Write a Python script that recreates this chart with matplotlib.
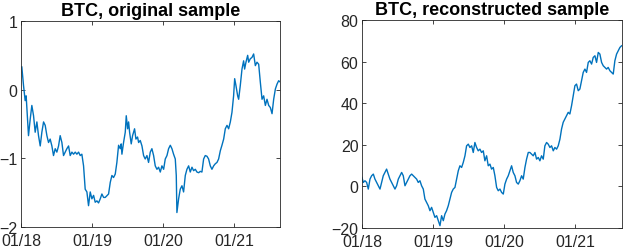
import numpy as np
import matplotlib
matplotlib.use("Agg")
import matplotlib.pyplot as plt

plt.rcParams['font.family'] = ['Liberation Sans', 'DejaVu Sans']

# time in years since 01/2018
t_orig = [0.009, 0.033, 0.056, 0.070, 0.103, 0.127, 0.150, 0.174, 0.197, 0.221,
          0.244, 0.268, 0.291, 0.315, 0.338, 0.362, 0.385, 0.408, 0.432, 0.455,
          0.479, 0.502, 0.526, 0.549, 0.573, 0.596, 0.620, 0.643, 0.667, 0.690,
          0.714, 0.737, 0.761, 0.784, 0.808, 0.831, 0.854, 0.878, 0.901, 0.925,
          0.948, 0.972, 0.995, 1.019, 1.042, 1.066, 1.089, 1.113, 1.136, 1.160,
          1.183, 1.230, 1.254, 1.277, 1.300, 1.324, 1.347, 1.371, 1.394, 1.408,
          1.418, 1.441, 1.465, 1.479, 1.498, 1.512, 1.526, 1.549, 1.568, 1.596,
          1.615, 1.638, 1.653, 1.676, 1.700, 1.723, 1.746, 1.770, 1.793, 1.817,
          1.840, 1.864, 1.887, 1.911, 1.934, 1.958, 1.981, 2.005, 2.028, 2.052,
          2.075, 2.099, 2.122, 2.145, 2.169, 2.183, 2.192, 2.216, 2.239, 2.263,
          2.286, 2.310, 2.333, 2.357, 2.380, 2.404, 2.427, 2.451, 2.474, 2.498,
          2.521, 2.544, 2.568, 2.591, 2.615, 2.638, 2.662, 2.685, 2.709, 2.732,
          2.756, 2.779, 2.803, 2.826, 2.850, 2.873, 2.897, 2.920, 2.944, 2.967,
          2.990, 3.005, 3.023, 3.047, 3.061, 3.084, 3.108, 3.131, 3.145, 3.164,
          3.188, 3.202, 3.225, 3.249, 3.272, 3.296, 3.319, 3.343, 3.366, 3.390,
          3.413, 3.437, 3.460, 3.484, 3.507, 3.531, 3.554, 3.578, 3.601, 3.624,
          3.648]
v_orig = [0.33, 0.06, -0.16, -0.09, -0.67, -0.43, -0.23, -0.38, -0.62, -0.47,
          -0.67, -0.82, -0.62, -0.47, -0.52, -0.67, -0.77, -0.72, -0.82, -0.96,
          -0.86, -0.91, -0.82, -0.67, -0.77, -0.96, -0.91, -0.86, -0.82, -0.96,
          -0.91, -0.94, -0.91, -0.94, -0.91, -0.96, -0.94, -1.11, -1.45, -1.49,
          -1.69, -1.49, -1.59, -1.54, -1.64, -1.62, -1.65, -1.59, -1.52, -1.57,
          -1.57, -1.52, -1.35, -1.25, -1.28, -1.23, -1.06, -0.81, -0.86, -0.79,
          -0.94, -0.77, -0.62, -0.38, -0.57, -0.47, -0.62, -0.79, -0.67, -0.57,
          -0.72, -0.69, -0.77, -0.74, -0.82, -0.96, -1.01, -0.96, -1.06, -0.91,
          -0.86, -0.96, -1.11, -1.16, -1.13, -1.20, -1.11, -1.16, -1.01, -0.96,
          -0.86, -0.81, -0.86, -0.94, -1.01, -1.25, -1.79, -1.59, -1.45, -1.40,
          -1.49, -1.25, -1.16, -1.11, -1.20, -1.13, -1.18, -1.16, -1.20, -1.21,
          -1.19, -1.20, -1.01, -0.96, -0.97, -1.01, -1.11, -1.16, -1.11, -1.08,
          -1.06, -1.01, -0.89, -0.81, -0.72, -0.57, -0.52, -0.57, -0.47, -0.33,
          -0.09, 0.16, 0.06, -0.09, -0.14, 0.06, 0.30, 0.42, 0.30, 0.40,
          0.50, 0.40, 0.45, 0.47, 0.52, 0.35, 0.40, 0.37, 0.11, -0.14,
          -0.09, -0.23, -0.14, -0.23, -0.26, -0.35, -0.14, 0.01, 0.08, 0.13,
          0.11]

t_rec = [0.000, 0.019, 0.042, 0.066, 0.089, 0.113, 0.136, 0.160, 0.183, 0.207,
         0.230, 0.254, 0.277, 0.300, 0.324, 0.347, 0.371, 0.394, 0.418, 0.441,
         0.465, 0.488, 0.512, 0.535, 0.559, 0.582, 0.606, 0.629, 0.653, 0.676,
         0.700, 0.723, 0.746, 0.770, 0.793, 0.817, 0.840, 0.864, 0.887, 0.911,
         0.934, 0.958, 0.981, 1.005, 1.028, 1.052, 1.075, 1.099, 1.122, 1.146,
         1.169, 1.192, 1.216, 1.239, 1.263, 1.286, 1.310, 1.333, 1.357, 1.380,
         1.404, 1.427, 1.451, 1.474, 1.498, 1.521, 1.545, 1.568, 1.591, 1.615,
         1.638, 1.662, 1.685, 1.709, 1.732, 1.756, 1.779, 1.803, 1.826, 1.850,
         1.873, 1.897, 1.920, 1.944, 1.967, 1.991, 2.014, 2.038, 2.061, 2.085,
         2.108, 2.131, 2.155, 2.178, 2.202, 2.225, 2.249, 2.272, 2.296, 2.319,
         2.343, 2.366, 2.390, 2.413, 2.437, 2.460, 2.484, 2.507, 2.530, 2.554,
         2.577, 2.601, 2.624, 2.648, 2.671, 2.695, 2.718, 2.742, 2.765, 2.789,
         2.812, 2.835, 2.859, 2.882, 2.906, 2.929, 2.953, 2.976, 3.000, 3.023,
         3.047, 3.070, 3.094, 3.117, 3.141, 3.164, 3.188, 3.211, 3.235, 3.258,
         3.282, 3.305, 3.329, 3.352, 3.376, 3.399, 3.423, 3.446, 3.469, 3.493,
         3.516, 3.540, 3.563, 3.587, 3.610, 3.634, 3.657]
v_rec = [4.3, 1.9, 2.7, 1.9, -1.3, 3.5, 5.1, 5.9, 3.5, 1.9,
         0.3, -1.3, 1.9, 5.1, 6.7, 8.3, 5.9, 3.5, 1.9, 0.3,
         -1.3, 0.3, 3.5, 5.1, 6.7, 5.1, 0.3, 1.9, 3.5, 5.1,
         5.9, 5.1, 4.3, 3.5, 1.9, 2.7, 0.3, -1.3, -6.1, -7.7,
         -9.3, -11.7, -10.1, -12.5, -14.9, -14.1, -16.5, -18.9, -14.1, -16.5,
         -13.3, -11.7, -9.3, -6.1, -2.9, -1.3, -0.5, 3.5, 7.5, 9.9,
         9.1, 11.5, 14.7, 19.5, 20.3, 18.7, 19.5, 16.3, 21.1, 18.7,
         17.1, 17.9, 16.3, 17.1, 12.3, 14.7, 9.9, 10.7, 8.3, 9.1,
         5.1, -0.5, -2.1, -1.3, -2.9, -3.7, 1.1, 3.5, 5.1, 7.5,
         9.9, 6.7, 5.1, 1.9, 1.1, 2.7, 5.1, 3.5, 9.1, 13.1,
         16.3, 16.3, 15.5, 14.7, 16.3, 13.1, 13.9, 12.3, 14.7, 13.1,
         19.5, 21.1, 20.3, 18.7, 19.5, 17.1, 18.7, 17.9, 19.5, 22.7,
         27.6, 30.8, 32.4, 33.9, 35.6, 34.8, 38.8, 43.6, 48.4, 49.2,
         46.0, 46.8, 50.8, 54.8, 56.4, 54.8, 59.6, 60.4, 58.8, 62.0,
         62.8, 59.6, 64.4, 63.6, 59.6, 58.0, 57.2, 56.4, 57.2, 55.6,
         54.8, 54.0, 60.4, 63.6, 65.2, 66.8, 67.6]

titles = ["BTC, original sample", "BTC, reconstructed sample"]
year_ticks = [0, 1, 2, 3]
year_labels = ["01/18", "01/19", "01/20", "01/21"]

fig = plt.figure(figsize=(6.23, 2.53), dpi=100)
ax1 = fig.add_axes([0.034, 0.099, 0.416, 0.814])
ax2 = fig.add_axes([0.581, 0.095, 0.417, 0.822])

blue = "#0072BD"
ax1.plot(t_orig, v_orig, color=blue, lw=1.0)
ax1.set_xlim(0, 3.648)
ax1.set_ylim(-2, 1)
ax1.set_yticks([-2, -1, 0, 1])

ax2.plot(t_rec, v_rec, color=blue, lw=1.0)
ax2.set_xlim(0, 3.66)
ax2.set_ylim(-20, 80)
ax2.set_yticks([-20, 0, 20, 40, 60, 80])

for ax, title in zip([ax1, ax2], titles):
    ax.set_title(title, fontsize=13, fontweight="bold", pad=4)
    ax.set_xticks(year_ticks)
    ax.set_xticklabels(year_labels)
    ax.tick_params(direction="in", top=True, right=True, length=3,
                   width=0.6, labelsize=11.5, colors="#262626")
    ax.tick_params(axis="x", pad=4.5)
    ax.tick_params(axis="y", pad=2.5)
    for sp in ax.spines.values():
        sp.set_color("#262626")
        sp.set_linewidth(0.6)

fig.savefig("out.png", dpi=100)
